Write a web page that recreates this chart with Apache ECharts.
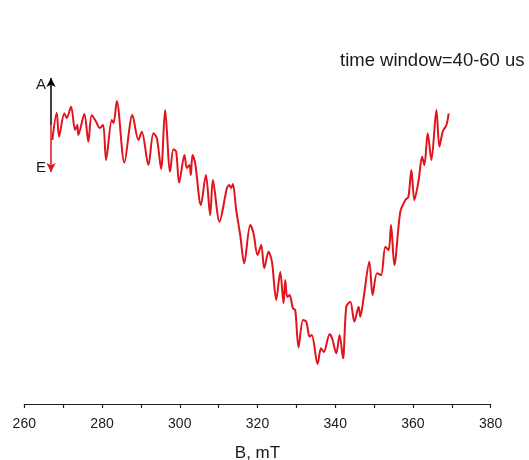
<!DOCTYPE html>
<html>
<head>
<meta charset="utf-8">
<script src="https://cdn.jsdelivr.net/npm/echarts@6/dist/echarts.min.js"></script>
<style>html,body{margin:0;padding:0;background:#fff}#c{width:529px;height:460px}</style>
</head>
<body>
<div id="c"></div>
<script>
// Magnetic field, mT
const fieldB = [267.21,268.34,268.94,270.30,270.92,272.03,273.06,273.65,273.91,275.45,276.48,277.36,278.65,279.37,280.27,281.04,282.51,282.97,283.80,285.75,287.81,289.36,290.23,291.93,293.22,294.10,295.20,296.23,297.52,298.37,299.07,299.84,301.21,301.82,302.49,302.85,303.27,303.96,305.43,306.72,307.82,308.52,310.22,312.12,312.72,313.23,313.67,314.52,315.55,316.58,318.13,318.97,320.01,320.96,321.73,322.84,323.71,324.82,325.85,326.70,327.14,327.65,328.25,329.12,329.71,330.56,331.70,332.55,333.40,333.96,335.46,336.33,337.05,338.55,339.17,340.27,341.12,342.00,342.85,343.88,344.91,346.02,346.45,347.30,348.77,349.62,350.75,351.79,352.89,353.74,354.36,355.21,356.75,358.04,358.82,359.59,360.36,361.47,362.34,362.94,363.79,364.74,366.03,366.80,367.65,368.60,369.19];
// Signal, arbitrary units
const signal = [264,291.3,267.3,290.7,286,297.3,274,279,269,290,262.3,289,281,276,279,244,284,281,303,241.3,289,264,272.3,239,270.7,266,235,294,232.3,254.7,252.3,221.3,249,236,239,229,249,241,199,229,189,224,182.3,215.7,219,216,220,194,169,140.7,179,170.7,149,159,135.7,152.3,142.3,104,132.3,100.7,124,107,109,95.7,94,56.7,84,82.3,67.3,69,40,55.7,52,69.7,66,50.7,69,45.7,97.3,102.3,82.3,97.3,87.3,106,142.3,109,130.7,129,157.3,154,179,139,192.3,204,207,234,204,224,247.3,239,270.7,244,294,257.3,272.3,279,290.7];
const xTicks = [260,280,300,320,340,360,380];
const arrowX = 266.88;
const arrowTop = 326, arrowMid = 279, arrowBottom = 232;

const chart = echarts.init(document.getElementById('c'), null, {renderer:'canvas'});
const data = fieldB.map((b,i)=>[b, signal[i]]);
chart.setOption({
  animation:false,
  backgroundColor:'#fff',
  grid:{left:24.3, right:38.3, top:4, bottom:56, containLabel:false, outerBoundsMode:'none'},
  xAxis:{
    type:'value', min:xTicks[0], max:xTicks[xTicks.length-1], interval:20,
    name:'B, mT', nameLocation:'middle', nameGap:41,
    nameTextStyle:{fontFamily:'Liberation Sans, Arial', fontSize:17, color:'#1a1a1a'},
    axisLine:{show:true, onZero:false, lineStyle:{color:'#222', width:1.2}},
    axisTick:{show:true, inside:false, length:4, lineStyle:{color:'#222', width:1.2}},
    minorTick:{show:true, splitNumber:2, length:4, lineStyle:{color:'#222', width:1.2}},
    axisLabel:{fontFamily:'Liberation Sans, Arial', fontSize:14, color:'#1a1a1a', margin:13},
    splitLine:{show:false}
  },
  yAxis:{type:'value', min:0, max:400, show:false, splitLine:{show:false}},
  graphic:[
    {type:'text', left:340, top:51, style:{text:'time window=40-60 us', font:'18.5px "Liberation Sans", Arial', fill:'#1a1a1a'}},
    {type:'text', left:36, top:77, style:{text:'A', font:'15px "Liberation Sans", Arial', fill:'#1a1a1a'}},
    {type:'text', left:36, top:160, style:{text:'E', font:'15px "Liberation Sans", Arial', fill:'#1a1a1a'}}
  ],
  series:[{
    type:'line', data:data, showSymbol:false, smooth:0.3,
    lineStyle:{color:'#e0141c', width:2},
    markLine:{
      silent:true, symbol:['none','arrow'], symbolSize:[7,9],
      label:{show:false},
      data:[
        [{coord:[arrowX, arrowMid]},{coord:[arrowX, arrowTop]}],
        [{coord:[arrowX, arrowMid], lineStyle:{color:'#e0141c', type:'solid', width:1.5}},{coord:[arrowX, arrowBottom]}]
      ],
      lineStyle:{color:'#000', type:'solid', width:1.5}
    }
  }]
});
</script>
</body>
</html>
